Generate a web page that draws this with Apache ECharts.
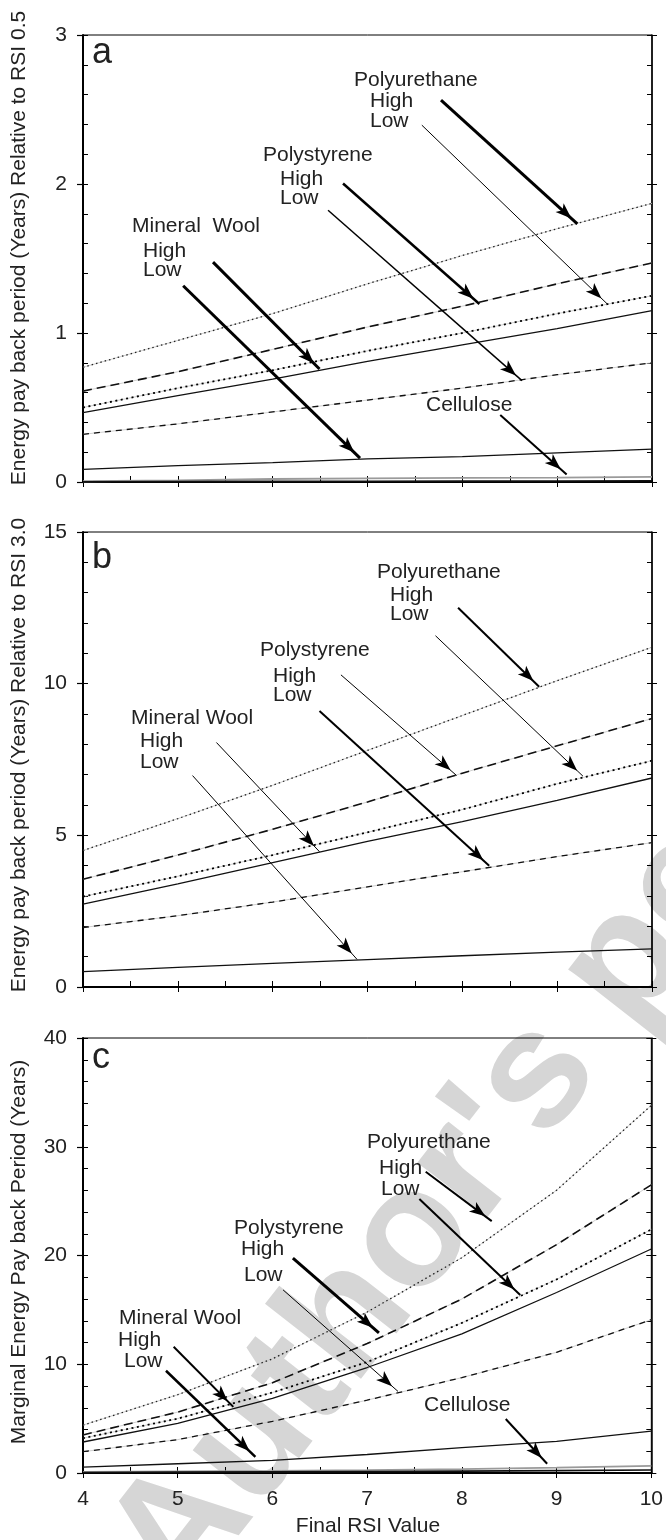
<!DOCTYPE html>
<html>
<head>
<meta charset="utf-8">
<script src="https://cdn.jsdelivr.net/npm/echarts/dist/echarts.min.js"></script>
<style>
html,body{margin:0;padding:0;background:#fff;}
#chart{width:666px;height:1540px;}
</style>
</head>
<body>
<div id="chart"></div>
<script>
// ---------------- DATA ----------------
const rsi = [4, 5, 6, 7, 8, 9, 10];
const xTickLabels = ['4', '5', '6', '7', '8', '9', '10'];

// Panel a : Energy pay back period relative to RSI 0.5
const aPUHigh  = [0.77, 0.95, 1.13, 1.33, 1.52, 1.70, 1.87];
const aPSHigh  = [0.61, 0.74, 0.89, 1.04, 1.18, 1.33, 1.47];
const aPULow   = [0.50, 0.63, 0.75, 0.88, 1.00, 1.13, 1.25];
const aMWHigh  = [0.465, 0.58, 0.69, 0.81, 0.92, 1.03, 1.15];
const aPSLow   = [0.32, 0.39, 0.47, 0.55, 0.63, 0.72, 0.80];
const aMWLow   = [0.085, 0.11, 0.13, 0.155, 0.17, 0.195, 0.22];
const aCelHigh = [0.005, 0.01, 0.02, 0.025, 0.028, 0.03, 0.035];
const aCelLow  = [0.002, 0.003, 0.004, 0.005, 0.006, 0.007, 0.008];

// Panel b : Energy pay back period relative to RSI 3.0
const bPUHigh = [4.5, 5.55, 6.65, 7.8, 8.95, 10.1, 11.2];
const bPSHigh = [3.55, 4.35, 5.2, 6.1, 7.05, 7.95, 8.85];
const bPULow  = [2.98, 3.65, 4.35, 5.1, 5.85, 6.7, 7.46];
const bMWHigh = [2.73, 3.4, 4.1, 4.8, 5.45, 6.15, 6.89];
const bPSLow  = [1.96, 2.35, 2.8, 3.3, 3.8, 4.3, 4.76];
const bMWLow  = [0.51, 0.65, 0.78, 0.9, 1.03, 1.15, 1.26];

// Panel c : Marginal energy pay back period
const cPUHigh  = [4.4, 7.2, 10.5, 14.8, 19.8, 26.0, 33.8];
const cPSHigh  = [3.5, 5.6, 8.3, 11.9, 16.0, 21.0, 26.5];
const cPULow   = [3.2, 5.0, 7.4, 10.2, 13.8, 17.8, 22.4];
const cMWHigh  = [2.85, 4.56, 6.87, 9.7, 12.8, 16.6, 20.6];
const cPSLow   = [1.96, 3.07, 4.75, 6.7, 8.77, 11.1, 14.1];
const cMWLow   = [0.54, 0.85, 1.17, 1.7, 2.34, 2.9, 3.86];
const cCelHigh = [0.1, 0.15, 0.2, 0.27, 0.36, 0.5, 0.65];
const cCelLow  = [0.05, 0.08, 0.1, 0.13, 0.17, 0.22, 0.28];

// y tick labels
const aYTicks = ['0', '1', '2', '3'];
const bYTicks = ['0', '5', '10', '15'];
const cYTicks = ['0', '10', '20', '30', '40'];

// annotation arrows in data coordinates: [x1, y1, x2, y2]
const aArrows = [[7.775, 2.563, 9.213, 1.733], [7.573, 2.395, 9.528, 1.195], [6.742, 2.003, 8.18, 1.195],
                 [6.584, 1.824, 8.629, 0.68], [5.371, 1.476, 6.494, 0.758], [5.056, 1.317, 6.921, 0.16],
                 [8.40, 0.45, 9.10, 0.05]];
const bArrows = [[7.955, 12.5, 8.81, 9.9], [7.717, 11.58, 9.272, 6.95], [6.72, 10.29, 7.94, 6.97],
                 [6.494, 9.10, 8.283, 4.0], [5.407, 8.06, 6.494, 4.46], [5.155, 6.97, 6.89, 0.91]];
const cArrows = [[7.618, 27.7, 8.315, 23.16], [7.551, 25.2, 8.616, 16.36], [6.216, 19.75, 7.124, 12.88],
                 [6.112, 16.84, 7.326, 7.5], [4.957, 11.61, 5.587, 6.08], [4.876, 9.4, 5.82, 1.49],
                 [8.463, 4.97, 8.9, 0.85]];
// arrow line widths
const aArrowW = [3, 1, 2.5, 1.5, 3, 3, 2];
const bArrowW = [2, 1, 1, 2, 1, 1];
const cArrowW = [2, 2, 3, 1, 2, 2.5, 2];

// annotation labels
const aLabels = [['Polyurethane', 354, 80], ['High', 370, 101], ['Low', 370, 121],
                 ['Polystyrene', 263, 155], ['High', 280, 179], ['Low', 280, 198],
                 ['Mineral  Wool', 132, 226], ['High', 143, 251], ['Low', 143, 270],
                 ['Cellulose', 426, 405]];
const bLabels = [['Polyurethane', 377, 572], ['High', 390, 595], ['Low', 390, 614],
                 ['Polystyrene', 260, 650], ['High', 273, 676], ['Low', 273, 695],
                 ['Mineral Wool', 131, 718], ['High', 140, 741], ['Low', 140, 762]];
const cLabels = [['Polyurethane', 367, 1142], ['High', 379, 1168], ['Low', 381, 1189],
                 ['Polystyrene', 234, 1228], ['High', 241, 1249], ['Low', 244, 1275],
                 ['Mineral Wool', 119, 1318], ['High', 118, 1340], ['Low', 124, 1361],
                 ['Cellulose', 424, 1405]];

// ---------------- LAYOUT / STYLE ----------------
const FONT = '"Liberation Sans", Arial, Helvetica, sans-serif';
const grids = [
  { top: 35, height: 447 },
  { top: 532, height: 455 },
  { top: 1038, height: 435 }
];
const yCfg = [
  { max: 3, major: 1, minor: 0.2, labels: aYTicks },
  { max: 15, major: 5, minor: 1, labels: bYTicks },
  { max: 40, major: 10, minor: 2, labels: cYTicks }
];
const styles = {
  puHigh:  { color: '#222', width: 1.3, type: [1.5, 3] },
  puLow:   { color: '#000', width: 1.8, type: [2, 3.5] },
  psHigh:  { color: '#111', width: 1.6, type: [9, 5] },
  psLow:   { color: '#111', width: 1.3, type: [6, 5] },
  mwHigh:  { color: '#111', width: 1.3, type: 'solid' },
  mwLow:   { color: '#111', width: 1.3, type: 'solid' },
  celHigh: { color: '#9a9a9a', width: 1.8, type: 'solid' },
  celLow:  { color: '#111', width: 1.6, type: 'solid' }
};
const underlay = { color: '#c4c4c4', width: 0.8, type: 'solid' };

const panels = [
  { series: [['Polyurethane High', aPUHigh, 'puHigh'], ['Polystyrene High', aPSHigh, 'psHigh'],
             ['Polyurethane Low', aPULow, 'puLow'], ['Mineral Wool High', aMWHigh, 'mwHigh'],
             ['Polystyrene Low', aPSLow, 'psLow'], ['Mineral Wool Low', aMWLow, 'mwLow'],
             ['Cellulose High', aCelHigh, 'celHigh'], ['Cellulose Low', aCelLow, 'celLow']],
    arrows: aArrows, arrowW: aArrowW, labels: aLabels },
  { series: [['Polyurethane High', bPUHigh, 'puHigh'], ['Polystyrene High', bPSHigh, 'psHigh'],
             ['Polyurethane Low', bPULow, 'puLow'], ['Mineral Wool High', bMWHigh, 'mwHigh'],
             ['Polystyrene Low', bPSLow, 'psLow'], ['Mineral Wool Low', bMWLow, 'mwLow']],
    arrows: bArrows, arrowW: bArrowW, labels: bLabels },
  { series: [['Polyurethane High', cPUHigh, 'puHigh'], ['Polystyrene High', cPSHigh, 'psHigh'],
             ['Polyurethane Low', cPULow, 'puLow'], ['Mineral Wool High', cMWHigh, 'mwHigh'],
             ['Polystyrene Low', cPSLow, 'psLow'], ['Mineral Wool Low', cMWLow, 'mwLow'],
             ['Cellulose High', cCelHigh, 'celHigh'], ['Cellulose Low', cCelLow, 'celLow']],
    arrows: cArrows, arrowW: cArrowW, labels: cLabels }
];

// ---------------- BUILD OPTION ----------------
const gridOpts = grids.map(g => ({
  left: 83, width: 569, top: g.top, height: g.height,
  show: true, borderColor: '#000', borderWidth: 1, backgroundColor: 'transparent'
}));

const xAxes = [];
const yAxes = [];
grids.forEach((g, gi) => {
  xAxes.push({
    gridIndex: gi, type: 'value', min: 4, max: 10, interval: 0.5, position: 'bottom',
    axisLine: { show: true, onZero: false, lineStyle: { color: '#000', width: 2 } },
    axisTick: { show: true, inside: true, length: 6, lineStyle: { color: '#000', width: 1 } },
    axisLabel: gi === 2 ? {
      show: true, margin: 16, fontSize: 21, fontFamily: FONT, color: '#222',
      formatter: v => { const i = rsi.indexOf(v); return i >= 0 ? xTickLabels[i] : ''; }
    } : { show: false },
    splitLine: { show: false }
  });
  xAxes.push({
    gridIndex: gi, type: 'value', min: 4, max: 10, interval: 1, position: 'bottom',
    axisLine: { show: false }, axisLabel: { show: false }, splitLine: { show: false },
    axisTick: { show: true, inside: false, length: 5, lineStyle: { color: '#000', width: 1 } }
  });
  const c = yCfg[gi];
  yAxes.push({
    gridIndex: gi, type: 'value', min: 0, max: c.max, interval: c.major, position: 'left',
    axisLine: { show: true, onZero: false, lineStyle: { color: '#000', width: 2 } },
    axisTick: { show: true, inside: false, length: 6, lineStyle: { color: '#000', width: 1.2 } },
    axisLabel: {
      show: true, margin: 16, fontSize: 21, fontFamily: FONT, color: '#222',
      formatter: v => c.labels[Math.round(v / c.major)]
    },
    splitLine: { show: false }
  });
  yAxes.push({
    gridIndex: gi, type: 'value', min: 0, max: c.max, interval: c.minor, position: 'left',
    axisLine: { show: false }, axisLabel: { show: false }, splitLine: { show: false },
    axisTick: { show: true, inside: true, length: 5, lineStyle: { color: '#000', width: 1 } }
  });
  yAxes.push({
    gridIndex: gi, type: 'value', min: 0, max: c.max, interval: c.minor, position: 'right',
    axisLine: { show: true, onZero: false, lineStyle: { color: '#000', width: 1.5 } },
    axisLabel: { show: false }, splitLine: { show: false },
    axisTick: { show: true, inside: true, length: 5, lineStyle: { color: '#000', width: 1 } }
  });
  yAxes.push({
    gridIndex: gi, type: 'value', min: 0, max: c.max, interval: c.major, position: 'right',
    axisLine: { show: false }, axisLabel: { show: false }, splitLine: { show: false },
    axisTick: { show: true, inside: false, length: 5, lineStyle: { color: '#000', width: 1 } }
  });
});

const series = [];
panels.forEach((p, gi) => {
  p.series.forEach(([name, vals, st], si) => {
    const data = rsi.map((x, i) => [x, vals[i]]);
    const s = styles[st];
    if (Array.isArray(s.type)) {
      series.push({
        type: 'line', name: name + ' (base)', xAxisIndex: gi * 2, yAxisIndex: gi * 4,
        data, showSymbol: false, symbol: 'none', silent: true, z: 2,
        lineStyle: underlay, emphasis: { disabled: true }
      });
    }
    const ser = {
      type: 'line', name, xAxisIndex: gi * 2, yAxisIndex: gi * 4,
      data, showSymbol: false, symbol: 'none', silent: true, z: 3,
      lineStyle: s, emphasis: { disabled: true }
    };
    if (si === 0) {
      ser.markLine = {
        silent: true, animation: false,
        symbol: ['none', 'arrow'],
        label: { show: false },
        emphasis: { disabled: true },
        lineStyle: { color: '#000', type: 'solid' },
        data: p.arrows.map((a, k) => [
          { coord: [a[0], a[1]], lineStyle: { width: p.arrowW[k], color: '#000', type: 'solid' } },
          { coord: [a[2], a[3]], symbolSize: [9, 16], symbolOffset: [0, 8] }
        ])
      };
    }
    series.push(ser);
  });
});

const graphics = [];
// watermark
graphics.push({
  type: 'text', x: 145, y: 1580, rotation: 52 * Math.PI / 180, z: -10, silent: true,
  style: { text: "Author's personal copy", font: 'bold 168px ' + FONT, fill: '#d6d6d6',
           align: 'left', verticalAlign: 'middle' }
});
// panel letters
[['a', 53], ['b', 558], ['c', 1058]].forEach(([t, y]) => {
  graphics.push({ type: 'text', x: 92, y, z: 10, silent: true,
    style: { text: t, font: '36px ' + FONT, fill: '#222', align: 'left', verticalAlign: 'middle' } });
});
// axis titles
[['Energy pay back period (Years) Relative to RSI 0.5', 248],
 ['Energy pay back period (Years) Relative to RSI 3.0', 755],
 ['Marginal Energy Pay back Period (Years)', 1252]].forEach(([t, y]) => {
  graphics.push({ type: 'text', x: 19, y, rotation: Math.PI / 2, z: 10, silent: true,
    style: { text: t, font: '21px ' + FONT, fill: '#222', align: 'center', verticalAlign: 'middle' } });
});
graphics.push({ type: 'text', x: 368, y: 1526, z: 10, silent: true,
  style: { text: 'Final RSI Value', font: '21px ' + FONT, fill: '#222', align: 'center', verticalAlign: 'middle' } });
// annotation labels
panels.forEach(p => {
  p.labels.forEach(([t, x, y]) => {
    graphics.push({ type: 'text', x, y, z: 10, silent: true,
      style: { text: t, font: '21px ' + FONT, fill: '#222', align: 'left', verticalAlign: 'middle' } });
  });
});

const chart = echarts.init(document.getElementById('chart'), null, { renderer: 'canvas' });
chart.setOption({
  backgroundColor: '#fff',
  animation: false,
  grid: gridOpts,
  xAxis: xAxes,
  yAxis: yAxes,
  series,
  graphic: { elements: graphics }
});
</script>
</body>
</html>
